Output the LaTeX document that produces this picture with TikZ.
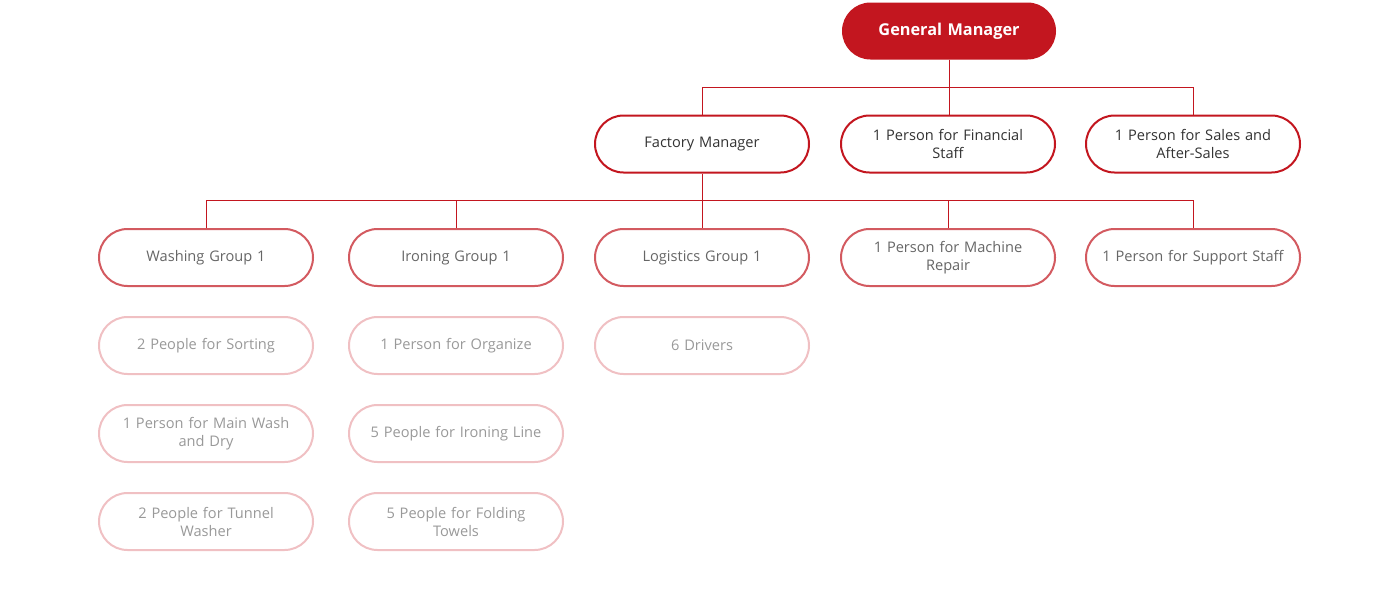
\documentclass[tikz,border=0pt]{standalone}
\usepackage{fontspec}
\setmainfont{Open Sans}
\usepackage{tikz}
\usetikzlibrary{shapes.misc}
\definecolor{gmred}{HTML}{C3161F}
\definecolor{grpred}{HTML}{D35A60}
\definecolor{staffpink}{HTML}{F0C0C3}
\definecolor{txtdark}{HTML}{333333}
\definecolor{txtmid}{HTML}{666666}
\definecolor{txtlight}{HTML}{999999}

\begin{document}
\begin{tikzpicture}[
    x=1pt,
    y=-1pt,
    box/.style={
        rounded rectangle,
        minimum width=214pt,
        minimum height=57pt,
        text width=200pt,
        align=center,
        inner sep=0pt,
        font=\fontsize{14.6}{18}\selectfont
    },
    gmbox/.style={
        box,
        fill=gmred,
        text=white,
        font=\fontsize{16.3}{19}\selectfont\bfseries
    },
    mgrbox/.style={
        box,
        draw=gmred,
        line width=2pt,
        fill=white,
        text=txtdark
    },
    grpbox/.style={
        box,
        draw=grpred,
        line width=2pt,
        fill=white,
        text=txtmid
    },
    staffbox/.style={
        box,
        draw=staffpink,
        line width=2pt,
        fill=white,
        text=txtlight
    },
    link/.style={
        draw=gmred,
        line width=0.9pt
    }
]

    \useasboundingbox (0,0) rectangle (1400,600);

    % Direccio
    \node[gmbox] (gm) at (949,31) {General Manager};

    % Segon nivell
    \node[mgrbox] (fm) at (702,144) {Factory Manager};
    \node[mgrbox] (fin) at (948,144) {1 Person for Financial\\Staff};
    \node[mgrbox] (sales) at (1193,144) {1 Person for Sales and\\After-Sales};

    % Grups
    \node[grpbox] (wash) at (206,257.5) {Washing Group 1};
    \node[grpbox] (iron) at (456,257.5) {Ironing Group 1};
    \node[grpbox] (logi) at (702,257.5) {Logistics Group 1};
    \node[grpbox] (mach) at (948,257.5) {1 Person for Machine\\Repair};
    \node[grpbox] (supp) at (1193,257.5) {1 Person for Support Staff};

    % Personal
    \node[staffbox] (sort) at (206,345.5) {2 People for Sorting};
    \node[staffbox] (mainw) at (206,433.5) {1 Person for Main Wash\\and Dry};
    \node[staffbox] (tunnel) at (206,521.5) {2 People for Tunnel\\Washer};
    \node[staffbox] (organ) at (456,345.5) {1 Person for Organize};
    \node[staffbox] (ironl) at (456,433.5) {5 People for Ironing Line};
    \node[staffbox] (fold) at (456,521.5) {5 People for Folding\\Towels};
    \node[staffbox] (drive) at (702,345.5) {6 Drivers};

    % Linies
    \coordinate (bus1) at (0,87);
    \coordinate (bus2) at (0,200);

    \draw[link] (gm.south) -- (gm.south |- fin.north);
    \draw[link] (fm.north) -- (fm.north |- bus1)
        -- (sales.north |- bus1) -- (sales.north);

    \draw[link] (fm.south) -- (logi.north);
    \draw[link] (wash.north) -- (wash.north |- bus2)
        -- (supp.north |- bus2) -- (supp.north);
    \draw[link] (iron.north) -- (iron.north |- bus2);
    \draw[link] (mach.north) -- (mach.north |- bus2);

\end{tikzpicture}
\end{document}
